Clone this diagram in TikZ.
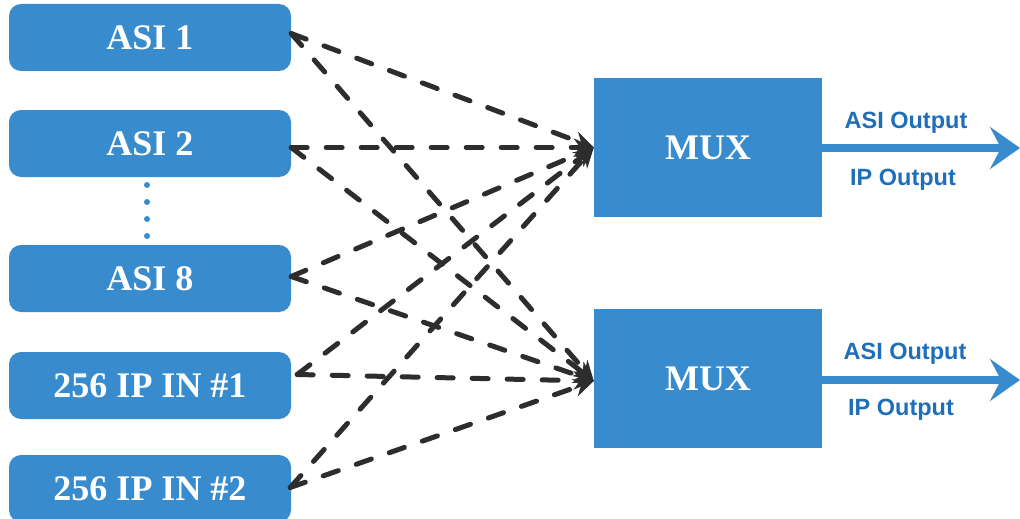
\documentclass[tikz,border=0pt]{standalone}
\usepackage{fontspec}
\setmainfont{Liberation Serif}
\newfontfamily\arialf{Liberation Sans}
\usetikzlibrary{arrows.meta}
\definecolor{boxblue}{RGB}{56,139,204}
\definecolor{txtblue}{RGB}{30,110,185}
\definecolor{dashgray}{RGB}{45,45,45}
\tikzset{
  inbox/.style={draw=none, fill=boxblue, rounded corners=12pt, minimum width=282pt, minimum height=67pt, inner sep=0pt, text=white, font=\bfseries\fontsize{36}{40}\selectfont},
  muxbox/.style={draw=none, fill=boxblue, minimum width=228pt, minimum height=139pt, inner sep=0pt, text=white, font=\bfseries\fontsize{36}{40}\selectfont},
  link/.style={draw=dashgray, line width=5pt, line cap=round, dash pattern=on 16pt off 19pt, -{Stealth[length=20pt,width=18pt]}},
  outarrow/.style={draw=boxblue, line width=8pt, -{Stealth[length=30pt,width=42pt,inset=11pt]}},
  outlabel/.style={text=txtblue, font=\arialf\bfseries\fontsize{23.5}{26}\selectfont, inner sep=0pt}
}
\begin{document}
\begin{tikzpicture}[x=1pt,y=-1pt]
\useasboundingbox (0,0) rectangle (1020,519);
\begin{scope}
\clip (0,0) rectangle (1020,519);
\node[inbox] (a1) at (150,37.5) {ASI 1};
\node[inbox] (a2) at (150,143.5) {ASI 2};
\node[inbox] (a8) at (150,278.5) {ASI 8};
\node[inbox] (ip1) at (150,385.5) {256 IP IN \#1};
\node[inbox] (ip2) at (150,488.5) {256 IP IN \#2};
\end{scope}
\foreach \yy [count=\i] in {185,202,219,236} {
  \fill[boxblue] (147,\yy) circle (3pt);
}
\node[muxbox] (m1) at (708,147.5) {MUX};
\node[muxbox] (m2) at (708,378.5) {MUX};
\coordinate (s1) at ([yshift=4pt]a1.east);
\coordinate (s2) at ([yshift=-4pt]a2.east);
\coordinate (s8) at ([yshift=2pt]a8.east);
\coordinate (s4) at ([xshift=6pt,yshift=11pt]ip1.east);
\coordinate (s5) at ([xshift=-1pt,yshift=1pt]ip2.east);
\coordinate (t1) at (m1.west);
\coordinate (t2) at ([yshift=-2.5pt]m2.west);
\foreach \s in {s1,s2,s8,s4,s5} {
  \draw[link] (\s) -- (t1);
  \draw[link] (\s) -- (t2);
}
\coordinate (o1) at (1020,148);
\coordinate (o2) at (1020,380);
\draw[outarrow] ([yshift=-0.5pt]m1.east) -- (o1);
\draw[outarrow] ([yshift=-1.5pt]m2.east) -- (o2);
\node[outlabel] (l1) at (906,123) {ASI Output};
\node[outlabel] (l2) at (903,180) {IP Output};
\node[outlabel] (l3) at (905,354) {ASI Output};
\node[outlabel] (l4) at (901,410) {IP Output};
\end{tikzpicture}
\end{document}
